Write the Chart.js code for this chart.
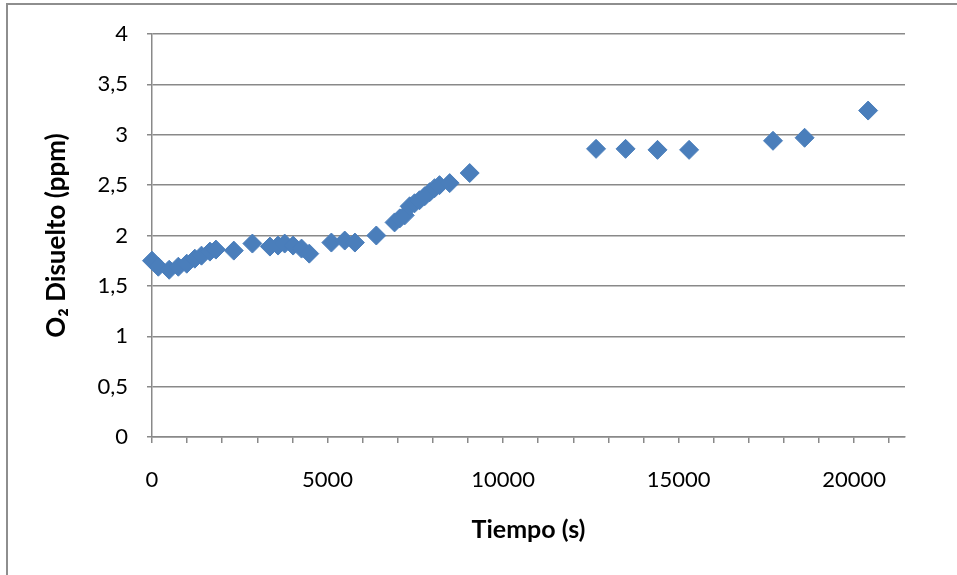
<!DOCTYPE html>
<html>
<head>
<meta charset="utf-8">
<script src="https://cdn.jsdelivr.net/npm/chart.js@4/dist/chart.umd.min.js"></script>
<style>
  body { margin: 0; background: #fff; }
  #chart { display: block; }
</style>
</head>
<body>
<canvas id="chart" width="957" height="575"></canvas>
<script>
'use strict';

// tiempo (s) and dissolved O2 (ppm)
const tiempo = [0, 180, 490, 750, 990, 1220, 1410, 1650, 1820, 2330, 2860, 3360, 3590, 3780, 4020, 4260, 4480,
    5110, 5490, 5780, 6390, 6910, 7060, 7200, 7340, 7480, 7620, 7770, 7910, 8050, 8190, 8480, 9050,
    12650, 13490, 14400, 15300, 17690, 18590, 20400];
const o2 = [1.75, 1.69, 1.66, 1.69, 1.72, 1.77, 1.80, 1.84, 1.86, 1.85, 1.92, 1.89, 1.90, 1.92, 1.90, 1.87, 1.82,
    1.93, 1.95, 1.93, 2.00, 2.13, 2.17, 2.20, 2.29, 2.32, 2.35, 2.39, 2.43, 2.47, 2.50, 2.52, 2.62,
    2.86, 2.86, 2.85, 2.85, 2.94, 2.97, 3.24];

// x axis: tick marks every 1000, labels every 5000
const xTickMarks = [0, 1000, 2000, 3000, 4000, 5000, 6000, 7000, 8000, 9000, 10000,
    11000, 12000, 13000, 14000, 15000, 16000, 17000, 18000, 19000, 20000, 21000];
const xLabels = [0, 5000, 10000, 15000, 20000];
const xMax = 21450;
const yMax = 4;

const xTitle = 'Tiempo (s)';
const yTitle = 'O₂ Disuelto (ppm)';

const gray = '#898989';
const blue = '#4a7ebb';
const font = 'Lato, "Open Sans", sans-serif';

// outer frame of the original chart (only top and left edges visible)
const framePlugin = {
    id: 'frame',
    beforeDraw(chart) {
        const ctx = chart.ctx;
        ctx.save();
        ctx.strokeStyle = '#8e8e8e';
        ctx.lineWidth = 2;
        ctx.beginPath();
        ctx.moveTo(7, 575);
        ctx.lineTo(7, 4);
        ctx.lineTo(957, 4);
        ctx.stroke();
        ctx.restore();
    }
};

function renderChart() {
    const points = tiempo.map((t, i) => ({ x: t, y: o2[i] }));

    const config = {
        type: 'scatter',
        data: {
            datasets: [{
                data: points,
                pointStyle: 'rectRot',
                pointRadius: 9.5,
                pointHoverRadius: 9.5,
                backgroundColor: blue,
                borderColor: blue,
                borderWidth: 1,
                clip: false
            }]
        },
        options: {
            responsive: false,
            animation: false,
            devicePixelRatio: 1,
            layout: { padding: { left: 0, right: 52, top: 34, bottom: 0 } },
            plugins: {
                legend: { display: false },
                tooltip: { enabled: false }
            },
            scales: {
                x: {
                    type: 'linear',
                    min: 0,
                    max: xMax,
                    grid: { drawOnChartArea: false, drawTicks: true, tickLength: 6, color: gray, lineWidth: 1.5 },
                    border: { color: gray, width: 1.5 },
                    afterBuildTicks(scale) {
                        scale.ticks = xTickMarks.map(v => ({ value: v }));
                    },
                    ticks: {
                        autoSkip: false,
                        maxRotation: 0,
                        padding: 24,
                        color: '#000',
                        font: { family: font, size: 22 },
                        callback: v => (xLabels.includes(Math.round(v)) ? String(Math.round(v)) : '')
                    },
                    title: {
                        display: true,
                        text: xTitle,
                        color: '#000',
                        font: { family: font, size: 25, weight: 'bold' },
                        padding: { top: 0, bottom: 30 }
                    },
                    afterFit(scale) { scale.height = 138; }
                },
                y: {
                    min: 0,
                    max: yMax,
                    grid: { drawTicks: true, tickLength: 5, color: gray, lineWidth: 1.5 },
                    border: { color: gray, width: 1.5 },
                    ticks: {
                        stepSize: 0.5,
                        padding: 19,
                        color: '#000',
                        font: { family: font, size: 22 },
                        callback: v => String(v).replace('.', ',')
                    },
                    title: {
                        display: true,
                        text: yTitle,
                        color: '#000',
                        font: { family: font, size: 26, weight: 'bold' },
                        padding: { top: 41, bottom: 0 }
                    },
                    afterFit(scale) { scale.width = 152; }
                }
            }
        },
        plugins: [framePlugin]
    };

    const canvasElem = document.getElementById('chart');
    if (canvasElem) {
        new Chart(canvasElem, config);
    }
}

document.addEventListener('DOMContentLoaded', renderChart);
</script>
</body>
</html>
